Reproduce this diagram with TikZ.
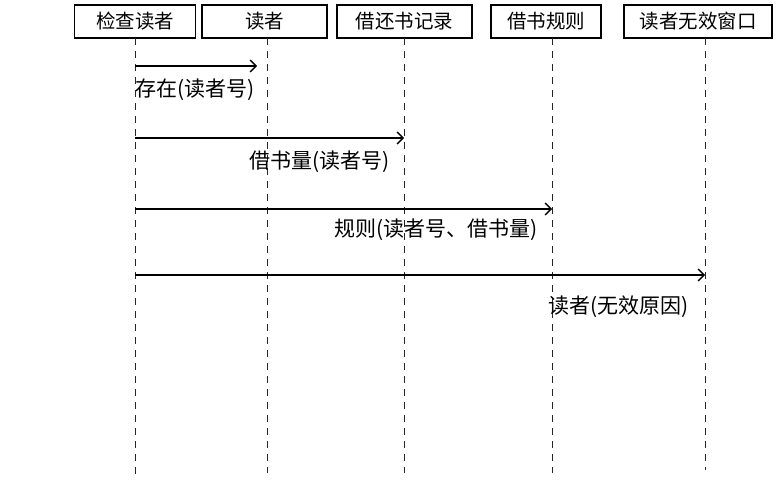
\documentclass[tikz,border=0pt]{standalone}
\usepackage{fontspec}
\setmainfont{Liberation Serif}
\newfontfamily\cjk{Noto Sans CJK SC}
\usetikzlibrary{arrows.meta}
\begin{document}
\begin{tikzpicture}[x=1pt,y=-1pt,
  objbox/.style={draw,line width=1.3pt,minimum height=33pt,inner sep=0pt,font=\cjk\fontsize{19.5}{22}\selectfont},
  life/.style={line width=1pt,dash pattern=on 7pt off 6pt,black!85},
  msg/.style={line width=1.3pt,-{Straight Barb[length=6pt,width=12pt]}},
  lbl/.style={anchor=west,inner sep=0pt,font=\cjk\fontsize{21}{24}\selectfont}]
\useasboundingbox (0,0) rectangle (777,484);
% boxes
\node[objbox,minimum width=121pt] (a) at (135,21.5) {检查读者};
\node[objbox,minimum width=125pt] (b) at (264.5,21.5) {读者};
\node[objbox,minimum width=135pt] (c) at (404.5,21.5) {借还书记录};
\node[objbox,minimum width=110pt] (d) at (546,21.5) {借书规则};
\node[objbox,minimum width=148pt] (e) at (698,21.5) {读者无效窗口};
% lifeline ends
\coordinate (a0) at (135,38);
\coordinate (a1) at (135,478);
\coordinate (b0) at (267,38);
\coordinate (b1) at (267,473);
\coordinate (c0) at (404,38);
\coordinate (c1) at (404,473);
\coordinate (d0) at (552,38);
\coordinate (d1) at (552,473);
\coordinate (e0) at (705,38);
\coordinate (e1) at (705,470);
\draw[life] (a0) -- (a1);
\draw[life] (b0) -- (b1);
\draw[life] (c0) -- (c1);
\draw[life] (d0) -- (d1);
\draw[life] (e0) -- (e1);
% messages
\coordinate (m1s) at (135,66);  \coordinate (m1e) at (257,66);
\coordinate (m2s) at (135,138); \coordinate (m2e) at (404,138);
\coordinate (m3s) at (135,209); \coordinate (m3e) at (552,209);
\coordinate (m4s) at (135,275); \coordinate (m4e) at (705,275);
\draw[msg] (m1s) -- (m1e);
\draw[msg] (m2s) -- (m2e);
\draw[msg] (m3s) -- (m3e);
\draw[msg] (m4s) -- (m4e);
% labels
\node[lbl] (l1) at (135,90) {存在(读者号)};
\node[lbl] (l2) at (249,162) {借书量(读者号)};
\node[lbl] (l3) at (334,230) {规则(读者号、借书量)};
\node[lbl] (l4) at (548,307) {读者(无效原因)};
\end{tikzpicture}
\end{document}
